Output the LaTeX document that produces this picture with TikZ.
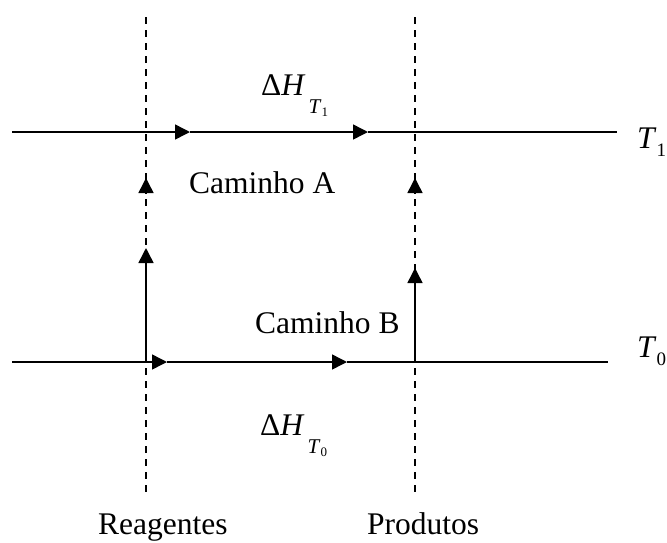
\documentclass[tikz,border=0pt]{standalone}
\usepackage{fontspec}
\setmainfont{Liberation Serif}
\usetikzlibrary{arrows.meta}
\begin{document}
\begin{tikzpicture}[x=1pt,y=-1pt,
  ln/.style={line width=1.5pt},
  dl/.style={line width=1.7pt,dash pattern=on 7pt off 6pt},
  tip/.style={line width=1.5pt,-{Triangle[length=15pt,width=15pt]}},
  lbl/.style={anchor=base west,inner sep=0pt,font=\fontsize{31.5}{32}\selectfont}]
\useasboundingbox (0,0) rectangle (667,542);
% coordinates
\coordinate (L1) at (12,132);
\coordinate (A1) at (190,132);
\coordinate (A2) at (368,132);
\coordinate (R1) at (617,132);
\coordinate (L0) at (12,362);
\coordinate (B1) at (167,362);
\coordinate (B2) at (347,362);
\coordinate (R0) at (608,362);
\coordinate (Ltop) at (146,17);
\coordinate (Lbot) at (146,498);
\coordinate (Rtop) at (415,17);
\coordinate (Rbot) at (415,498);
\coordinate (Lb) at (146,362);
\coordinate (Lu) at (146,248);
\coordinate (Lq) at (146,193);
\coordinate (Lv) at (146,178);
\coordinate (Rb) at (415,362);
\coordinate (Ru) at (415,268);
\coordinate (Rq) at (415,193);
\coordinate (Rv) at (415,178);
% dashed verticals
\draw[dl] (Ltop) -- (Lbot);
\draw[dl] (Rtop) -- (Rbot);
% T1 line
\draw[tip] (L1) -- (A1);
\draw[tip] (A1) -- (A2);
\draw[ln] (A2) -- (R1);
% T0 line
\draw[tip] (L0) -- (B1);
\draw[tip] (B1) -- (B2);
\draw[ln] (B2) -- (R0);
% verticals
\draw[tip] (Lb) -- (Lu);
\draw[tip] (Lq) -- (Lv);
\draw[tip] (Rb) -- (Ru);
\draw[tip] (Rq) -- (Rv);
% labels
\node[lbl] (dh1) at (261,95) {Δ\textit{H}\hspace{3pt}\raisebox{-18pt}{\fontsize{21}{21}\selectfont\textit{T}\raisebox{-3pt}{\fontsize{13}{13}\selectfont 1}}};
\node[lbl] (dh0) at (260,435) {Δ\textit{H}\hspace{3pt}\raisebox{-18pt}{\fontsize{21}{21}\selectfont\textit{T}\raisebox{-3pt}{\fontsize{13}{13}\selectfont 0}}};
\node[lbl] (ca) at (189,193) {Caminho A};
\node[lbl] (cb) at (255,333) {Caminho B};
\node[lbl] (t1) at (637,148) {\textit{T}\raisebox{-8pt}{\fontsize{19}{19}\selectfont 1}};
\node[lbl] (t0) at (637,357) {\textit{T}\raisebox{-8pt}{\fontsize{19}{19}\selectfont 0}};
\node[lbl] (re) at (98,534) {Reagentes};
\node[lbl] (pr) at (367,534) {Produtos};
\end{tikzpicture}
\end{document}
